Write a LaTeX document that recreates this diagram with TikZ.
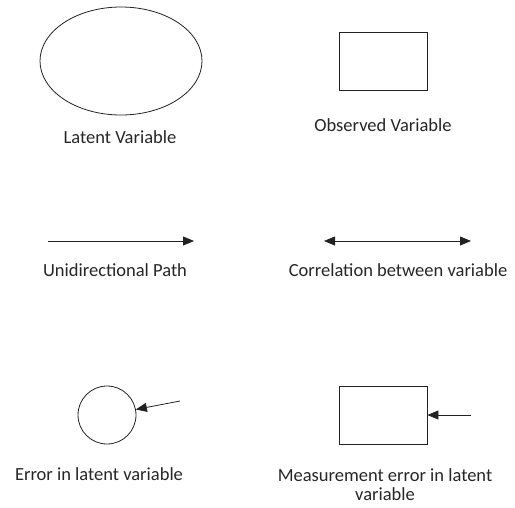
\documentclass[tikz,border=0pt]{standalone}
\usepackage{fontspec}
\setmainfont{Carlito}
\usetikzlibrary{positioning, calc, arrows.meta, shapes.geometric}
\definecolor{Line}{HTML}{222222}
\definecolor{Label}{HTML}{262626}
\tikzset{
    latentnode/.style={ellipse, draw=Line, thick, minimum width=162pt, minimum height=108pt, inner sep=0pt},
    boxnode/.style={rectangle, draw=Line, thick, minimum width=88pt, minimum height=58pt, inner sep=0pt},
    errnode/.style={circle, draw=Line, thick, minimum size=58pt, inner sep=0pt},
    caption/.style={text=Label, align=center, font=\fontsize{18.5}{19}\selectfont, inner sep=0pt},
    arrow/.style={-{Triangle[length=11pt,width=9pt]}, thick, color=Line},
    dblarrow/.style={{Triangle[length=11pt,width=9pt]}-{Triangle[length=11pt,width=9pt]}, thick, color=Line},
}
\begin{document}
\begin{tikzpicture}[x=1pt, y=-1pt]
        \useasboundingbox (0,0) rectangle (515,507);
        % top row
        \node[latentnode] (latent) at (121,61) {};
        \node[caption] (latentlbl) at (120,137) {Latent Variable};
        \node[boxnode] (obs) at (383,61) {};
        \node[caption] (obslbl) at (383,125) {Observed Variable};

        % paths
        \coordinate (uniA) at (48,241);
        \coordinate (uniB) at (194,241);
        \draw[arrow] (uniA) -- (uniB);
        \node[caption] (unilbl) at (115,270) {Unidirectional Path};
        \coordinate (corA) at (324,241);
        \coordinate (corB) at (471,241);
        \draw[dblarrow] (corA) -- (corB);
        \node[caption] (corlbl) at (398,270) {Correlation between variable};

        % errors
        \node[errnode] (err) at (107,415) {};
        \coordinate (errsrc) at (180,401);
        \draw[arrow] (errsrc) -- (err);
        \node[caption] (errlbl) at (99,474) {Error in latent variable};
        \node[boxnode] (meas) at (383,415) {};
        \coordinate (meassrc) at (471,415);
        \draw[arrow] (meassrc) -- (meas.east);
        \node[caption] (measlbl) at (385,485) {Measurement error in latent\\variable};
    \end{tikzpicture}
\end{document}
